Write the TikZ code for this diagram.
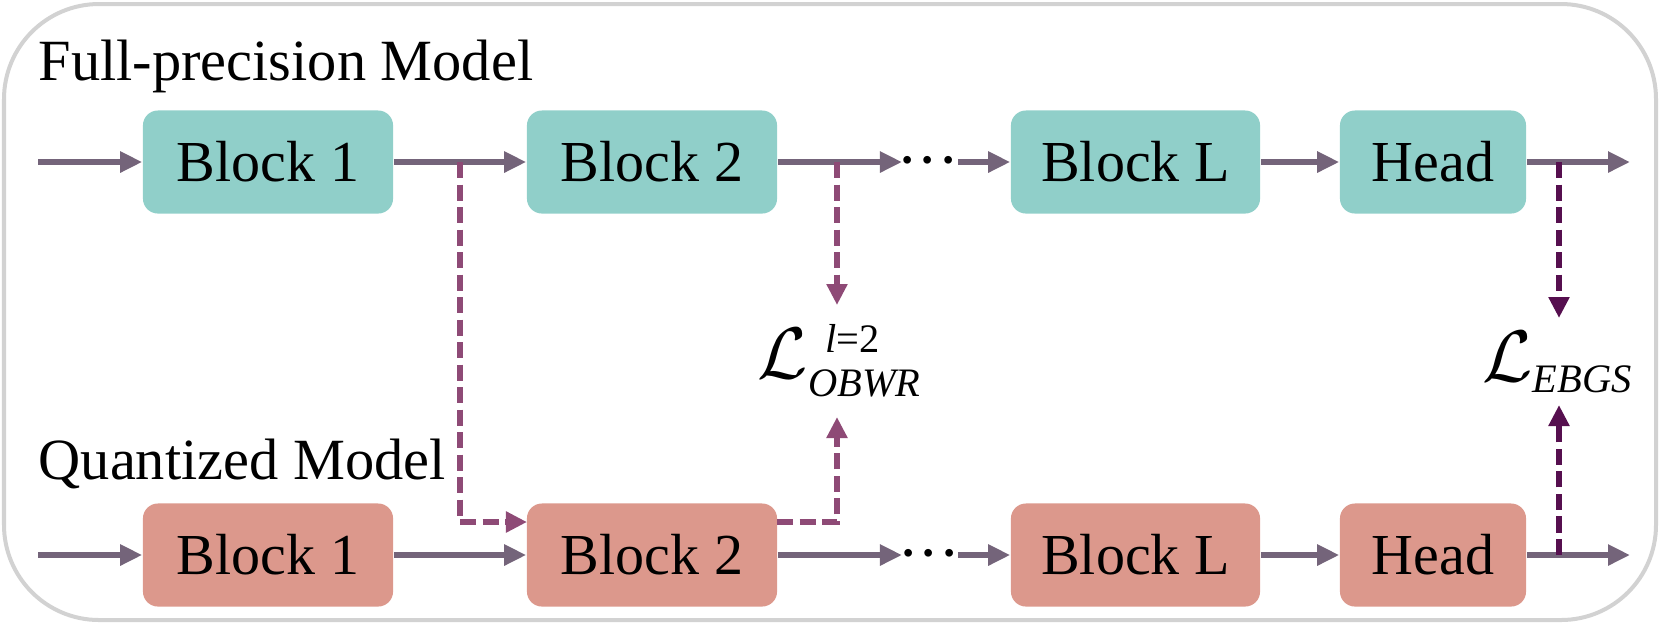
\documentclass[tikz,border=0pt]{standalone}
\usepackage{fontspec}
\setmainfont{Liberation Serif}
\usetikzlibrary{arrows.meta}
\definecolor{fpfill}{HTML}{90CFC9}
\definecolor{qfill}{HTML}{DC988C}
\definecolor{flow}{HTML}{74647A}
\definecolor{dashA}{HTML}{8E4A76}
\definecolor{dashB}{HTML}{560F4F}
\definecolor{frame}{HTML}{D2D2D2}
\tikzset{
  blk/.style={rounded corners=0.15cm, minimum height=1.03cm, inner sep=0pt, font=\fontsize{16.5}{18}\selectfont, text=black},
  fpblk/.style={blk, fill=fpfill},
  qblk/.style={blk, fill=qfill},
  flowarrow/.style={draw=flow, line width=0.055cm, -{Triangle[length=0.22cm, width=0.2cm]}},
  lossA/.style={draw=dashA, line width=0.06cm, dash pattern=on 0.16cm off 0.065cm, -{Triangle[length=0.21cm, width=0.2cm]}},
  lossB/.style={draw=dashB, line width=0.06cm, dash pattern=on 0.16cm off 0.065cm, -{Triangle[length=0.21cm, width=0.2cm]}},
  title/.style={anchor=base west, inner sep=0pt, font=\fontsize{16.6}{18}\selectfont},
  loss/.style={inner sep=0pt, font=\fontsize{21}{23}\selectfont},
  dots/.style={inner sep=0pt, font=\fontsize{20}{22}\selectfont}
}
\newcommand{\supl}[1]{\mbox{\fontsize{11.5}{11.5}\selectfont #1}}
\newcommand{\subl}[1]{\mbox{\fontsize{11.5}{11.5}\selectfont\itshape #1}}
\begin{document}
\begin{tikzpicture}[x=0.01cm, y=-0.01cm]
\useasboundingbox (0,0) rectangle (1660,626);
\draw[frame, line width=0.04cm, rounded corners=0.95cm] (4,4) rectangle (1656,620);

\node[title] (tfp) at (38,80) {Full-precision Model};
\node[title] (tq) at (38,479) {Quantized Model};

% full-precision row
\node[fpblk, minimum width=2.50cm] (f1) at (268,162) {Block 1};
\node[fpblk, minimum width=2.50cm] (f2) at (652,162) {Block 2};
\node[fpblk, minimum width=2.49cm] (fL) at (1135.5,162) {Block L};
\node[fpblk, minimum width=1.86cm] (fH) at (1433,162) {Head};
% quantized row
\node[qblk, minimum width=2.50cm] (q1) at (268,555) {Block 1};
\node[qblk, minimum width=2.50cm] (q2) at (652,555) {Block 2};
\node[qblk, minimum width=2.49cm] (qL) at (1135.5,555) {Block L};
\node[qblk, minimum width=1.86cm] (qH) at (1433,555) {Head};

% coordinates
\coordinate (fin) at (38,162);
\coordinate (qin) at (38,555);
\coordinate (fdotA) at (902,162);
\coordinate (fdotB) at (958,162);
\coordinate (qdotA) at (902,555);
\coordinate (qdotB) at (958,555);
\coordinate (fout) at (1630,162);
\coordinate (qout) at (1630,555);
\coordinate (br1) at (460,162);
\coordinate (br1d) at (460,522);
\coordinate (q2in) at (527,522);
\coordinate (br2) at (837,162);
\coordinate (br2tip) at (837,305);
\coordinate (q2out) at (777,522);
\coordinate (br2q) at (837,522);
\coordinate (br2uptip) at (837,417);
\coordinate (brH) at (1559,162);
\coordinate (brHtip) at (1559,318);
\coordinate (brHq) at (1559,555);
\coordinate (brHuptip) at (1559,405);

\node[dots, anchor=base] (fdots) at (928,178) {$\mathord{\cdot}\mathord{\cdot}\mathord{\cdot}$};
\node[dots, anchor=base] (qdots) at (929,571) {$\mathord{\cdot}\mathord{\cdot}\mathord{\cdot}$};

\node[loss] (lobwr) at (840,361) {$\mathcal{L}^{\supl{\hspace{5pt}\itshape l\upshape =2}}_{\subl{OBWR}}$};
\node[loss] (lebgs) at (1558,362) {$\mathcal{L}_{\subl{EBGS}}$};

% solid flows
\draw[flowarrow] (fin) -- (f1);
\draw[flowarrow] (f1) -- (f2);
\draw[flowarrow] (f2) -- (fdotA);
\draw[flowarrow] (fdotB) -- (fL);
\draw[flowarrow] (fL) -- (fH);
\draw[flowarrow] (fH) -- (fout);
\draw[flowarrow] (qin) -- (q1);
\draw[flowarrow] (q1) -- (q2);
\draw[flowarrow] (q2) -- (qdotA);
\draw[flowarrow] (qdotB) -- (qL);
\draw[flowarrow] (qL) -- (qH);
\draw[flowarrow] (qH) -- (qout);

% dashed losses
\draw[lossA] (br1) -- (br1d) -- (q2in);
\draw[lossA] (br2) -- (br2tip);
\draw[lossA] (q2out) -- (br2q) -- (br2uptip);
\draw[lossB] (brH) -- (brHtip);
\draw[lossB] (brHq) -- (brHuptip);
\end{tikzpicture}
\end{document}
